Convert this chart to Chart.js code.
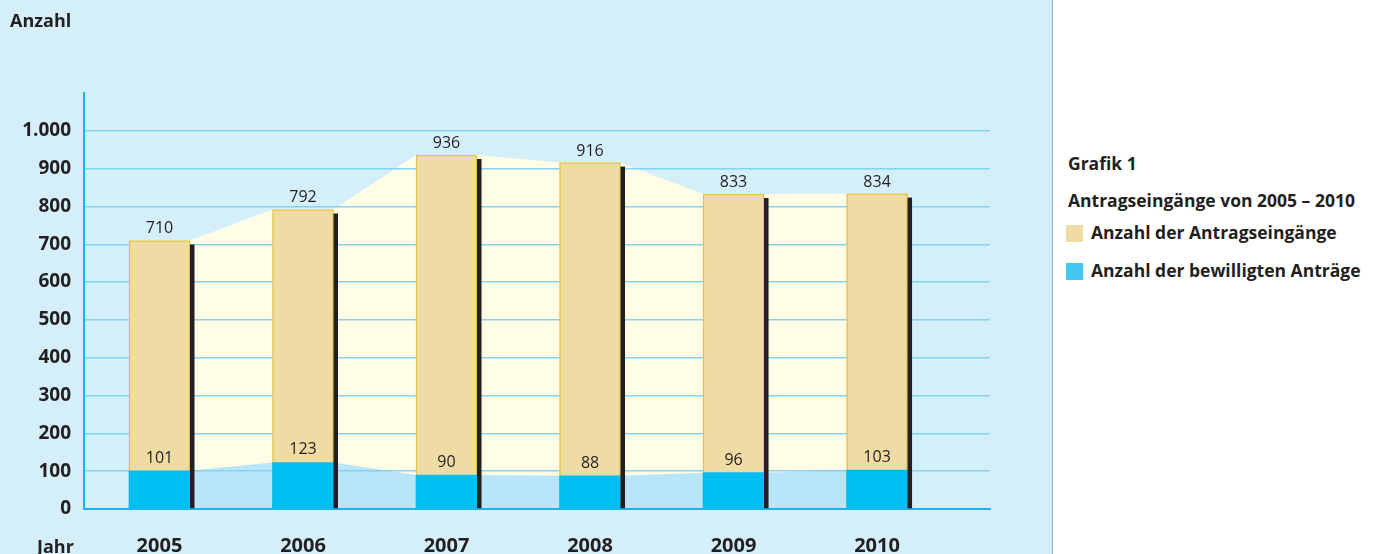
<!DOCTYPE html>
<html lang="de">
<head>
<meta charset="utf-8">
<script src="https://cdn.jsdelivr.net/npm/chart.js@4"></script>
<style>
  body { margin: 0; width: 1382px; height: 554px; background: #fff; font-family: "Open Sans", sans-serif; overflow: hidden; }
  #panel { position: absolute; left: 0; top: 0; width: 1052px; height: 554px; background: #d4eefa; border-right: 1px solid #8fb3cc; }
  #chartBox { position: absolute; left: 0; top: 0; width: 1052px; height: 554px; }
  .achse { position: absolute; font-weight: 700; color: #231f20; font-size: 18px; }
  .leg { position: absolute; left: 1068px; color: #231f20; font-weight: 700; font-size: 17.5px; line-height: 24px; white-space: nowrap; }
  .box { display: inline-block; width: 17px; height: 17px; vertical-align: -3px; margin-right: 8px; margin-left: -2px; }
</style>
</head>
<body>
<div id="panel">
  <div id="chartBox"><canvas id="chart"></canvas></div>
  <div class="achse" style="left:10px; top:8px;">Anzahl</div>
  <div class="achse" style="left:37px; top:534px;">Jahr</div>
</div>
<div class="leg" style="top:151px;">Grafik 1</div>
<div class="leg" style="top:188px;">Antragseingänge von 2005 – 2010</div>
<div class="leg" style="top:220px;"><span class="box" style="background:#efdca5"></span>Anzahl der Antragseingänge</div>
<div class="leg" style="top:258px;"><span class="box" style="background:#41c8f0"></span>Anzahl der bewilligten Anträge</div>
<script>
// Daten
const jahre = [2005, 2006, 2007, 2008, 2009, 2010];
const antragseingaenge = [710, 792, 936, 916, 833, 834];
const bewilligt = [101, 123, 90, 88, 96, 103];
const yTicks = [0, 100, 200, 300, 400, 500, 600, 700, 800, 900, 1000];

const halbeBreite = 0.21; // halbe Balkenbreite in Jahren, damit die Flaechen an den Balkenkanten ansetzen

function flaeche(werte) {
  const punkte = [];
  for (let i = 0; i < jahre.length; i++) {
    punkte.push({ x: jahre[i] - halbeBreite, y: werte[i] });
    punkte.push({ x: jahre[i] + halbeBreite, y: werte[i] });
  }
  return punkte;
}

function tausender(v) {
  return String(v).replace(/\B(?=(\d{3})+(?!\d))/g, '.');
}

// dunkler Schatten rechts neben den Balken + Zahlen
const balkenExtras = {
  id: 'balkenExtras',
  afterDatasetsDraw(chart) {
    const c = chart.ctx;
    const metaGesamt = chart.getDatasetMeta(2);
    const metaBew = chart.getDatasetMeta(3);
    c.save();
    c.fillStyle = '#231f20';
    metaGesamt.data.forEach(el => {
      const rechts = el.x + el.width / 2;
      c.fillRect(rechts, el.y + 4, 4.5, el.base - el.y - 4);
    });
    c.font = '16px "Open Sans"';
    c.fillStyle = '#231f20';
    c.textAlign = 'center';
    c.textBaseline = 'alphabetic';
    metaGesamt.data.forEach((el, i) => {
      c.fillText(antragseingaenge[i], el.x, el.y - 7);
    });
    metaBew.data.forEach((el, i) => {
      c.fillText(bewilligt[i], el.x, el.y - 8);
    });
    c.restore();
  }
};

new Chart(document.getElementById('chart'), {
  type: 'bar',
  data: {
    datasets: [
      {
        type: 'line',
        data: flaeche(antragseingaenge),
        backgroundColor: '#fffde6',
        borderColor: 'rgba(0,0,0,0)',
        borderWidth: 0,
        pointRadius: 0,
        fill: 'origin',
        order: 3
      },
      {
        type: 'line',
        data: flaeche(bewilligt),
        backgroundColor: '#b9e5f8',
        borderColor: 'rgba(0,0,0,0)',
        borderWidth: 0,
        pointRadius: 0,
        fill: 'origin',
        order: 2
      },
      {
        label: 'Anzahl der Antragseingänge',
        data: jahre.map((j, i) => ({ x: j, y: antragseingaenge[i] })),
        backgroundColor: '#efdca5',
        borderColor: '#e3c449',
        borderWidth: { top: 1.5, left: 1.5, right: 1.5, bottom: 0 },
        barThickness: 61,
        order: 1
      },
      {
        label: 'Anzahl der bewilligten Anträge',
        data: jahre.map((j, i) => ({ x: j, y: bewilligt[i] })),
        backgroundColor: '#00bef2',
        borderWidth: 0,
        barThickness: 61,
        order: 0
      }
    ]
  },
  options: {
    responsive: true,
    maintainAspectRatio: false,
    animation: false,
    grouped: false,
    layout: { padding: { top: 93, right: 62, left: 0, bottom: 0 } },
    plugins: {
      legend: { display: false },
      tooltip: { enabled: false },
      filler: { drawTime: 'beforeDraw' }
    },
    scales: {
      x: {
        type: 'linear',
        min: 2004.474,
        max: 2010.787,
        offset: false,
        afterBuildTicks: s => { s.ticks = jahre.map(v => ({ value: v })); },
        afterFit: s => { s.height = 45; },
        grid: { display: false, drawTicks: false },
        border: { color: '#1fb3e8', width: 2 },
        ticks: {
          padding: 25,
          color: '#231f20',
          font: { family: 'Open Sans', weight: 'bold', size: 20 },
          callback: v => String(v)
        }
      },
      y: {
        min: 0,
        max: 1100,
        afterBuildTicks: s => { s.ticks = yTicks.concat([1100]).map(v => ({ value: v })); },
        afterFit: s => { s.width = 84; },
        grid: {
          drawTicks: false,
          lineWidth: 1.5,
          color: c => c.tick && c.tick.value > 1000 ? 'rgba(0,0,0,0)' : '#86d2f3'
        },
        border: { color: '#1fb3e8', width: 2 },
        ticks: {
          padding: 13,
          color: '#231f20',
          font: { family: 'Open Sans', weight: 'bold', size: 19 },
          callback: v => v > 1000 ? '' : tausender(v)
        }
      }
    }
  },
  plugins: [balkenExtras]
});
</script>
</body>
</html>
